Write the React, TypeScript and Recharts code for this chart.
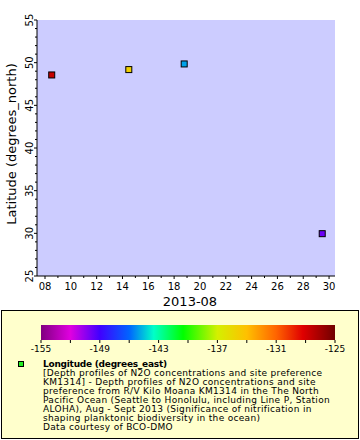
import React from "react";
import { CartesianGrid, Scatter, ScatterChart, XAxis, YAxis } from "recharts";

// cruise stations, August 2013
const dayOfAugust = [8.52, 14.49, 18.78, 29.47];
const latitude = [48.56, 49.19, 49.85, 29.96];
const longitude = [-127.5, -135.0, -145.0, -149.8];

const xTicks = Array.from({ length: 23 }, (_, i) => 8 + i);
const yTicks = Array.from({ length: 31 }, (_, i) => 25 + i);
const colorbarLabels = [-155, -149, -143, -137, -131, -125];
const colorbarTicks = Array.from({ length: 11 }, (_, i) => -155 + i * 3);

const legendTitle = "Longitude (degrees_east)";
const legendLines = [
    "[Depth profiles of N2O concentrations and site preference",
    "KM1314] - Depth profiles of N2O concentrations and site",
    "preference from R/V Kilo Moana KM1314 in the The North",
    "Pacific Ocean (Seattle to Honolulu, including Line P, Station",
    "ALOHA), Aug - Sept 2013 (Significance of nitrification in",
    "shaping planktonic biodiversity in the ocean)",
    "Data courtesy of BCO-DMO",
];

const LON_MIN = -155;
const LON_MAX = -125;

const colorStops: [number, string][] = [
    [-155, "#800080"],
    [-152, "#e000e0"],
    [-149, "#4000ff"],
    [-146, "#0064ff"],
    [-143.5, "#00ffc8"],
    [-140.5, "#00ff00"],
    [-137, "#d4f000"],
    [-134, "#ffc000"],
    [-131, "#ff6400"],
    [-128.3, "#e00000"],
    [-125, "#700000"],
];

const hexToRgb = (h: string) => [1, 3, 5].map((i) => parseInt(h.slice(i, i + 2), 16));

const lonColor = (v: number) => {
    for (let i = 0; i < colorStops.length - 1; i++) {
        const [a, ca] = colorStops[i];
        const [b, cb] = colorStops[i + 1];
        if (v <= b) {
            const t = Math.max(0, (v - a) / (b - a));
            const ra = hexToRgb(ca);
            const rb = hexToRgb(cb);
            const c = ra.map((x, k) => Math.round(x + (rb[k] - x) * t));
            return `rgb(${c[0]},${c[1]},${c[2]})`;
        }
    }
    return colorStops[colorStops.length - 1][1];
};

const data = dayOfAugust.map((d, i) => ({ day: d, lat: latitude[i], lon: longitude[i] }));

const FONT = "DejaVu Sans";

const XTick = (props: any) => {
    const { x, y, payload } = props;
    const major = payload.value % 2 === 0;
    return (
        <g>
            <line x1={x} x2={x} y1={y} y2={y + (major ? 3 : 2)} stroke="#000" />
            {major && (
                <text x={x} y={y + 14} textAnchor="middle" fontSize={10} fontFamily={FONT} fill="#000">
                    {String(payload.value).padStart(2, "0")}
                </text>
            )}
        </g>
    );
};

const YTick = (props: any) => {
    const { x, y, payload } = props;
    const major = payload.value % 5 === 0;
    return (
        <g>
            <line x1={x} x2={x - (major ? 3 : 2)} y1={y} y2={y} stroke="#000" />
            {major && (
                <text x={x - 4} y={y} transform={`rotate(-90 ${x - 4} ${y})`} textAnchor="middle"
                    fontSize={10} fontFamily={FONT} fill="#000">
                    {payload.value}
                </text>
            )}
        </g>
    );
};

const SquareDot = (props: any) => {
    const { cx, cy, payload } = props;
    return <rect x={cx - 3} y={cy - 3} width={6} height={6} fill={lonColor(payload.lon)} stroke="#000" strokeWidth={1} />;
};

const YLabel = (props: any) => {
    const { viewBox } = props;
    const x = viewBox.x + 16;
    const y = viewBox.y + viewBox.height / 2 - 4;
    return (
        <text x={x} y={y} transform={`rotate(-90 ${x} ${y})`} textAnchor="middle" fontSize={13} fontFamily={FONT} fill="#000">
            Latitude (degrees_north)
        </text>
    );
};

const XLabel = (props: any) => {
    const { viewBox } = props;
    return (
        <text x={viewBox.x + viewBox.width / 2 + 4} y={viewBox.y + 30} textAnchor="middle" fontSize={13} fontFamily={FONT} fill="#000">
            2013-08
        </text>
    );
};

const Legend = () => {
    const barX = 41;
    const barW = 294;
    const pos = (v: number) => barX + ((v - LON_MIN) / (LON_MAX - LON_MIN)) * barW;
    return (
        <svg width={360} height={440} style={{ position: "absolute", left: 0, top: 0 }}>
            <defs>
                <linearGradient id="lonScale" x1="0" x2="1" y1="0" y2="0">
                    {colorStops.map(([v, c]) => (
                        <stop key={v} offset={(v - LON_MIN) / (LON_MAX - LON_MIN)} stopColor={c} />
                    ))}
                </linearGradient>
            </defs>
            <rect x={1.5} y={310.5} width={357} height={128} fill="#ffffcc" stroke="#000" />
            <rect x={barX} y={325} width={barW} height={15} fill="url(#lonScale)" />
            {colorbarTicks.map((v) => (
                <line key={v} x1={pos(v)} x2={pos(v)} y1={340} y2={343} stroke="#000" />
            ))}
            {colorbarLabels.map((v) => (
                <text key={v} x={pos(v)} y={352} textAnchor="middle" fontSize={9} fontFamily={FONT} fill="#000">
                    {v}
                </text>
            ))}
            <rect x={18.5} y={361.5} width={5} height={5} fill="#22ee22" stroke="#000" />
            <text x={43} y={367} fontSize={9} fontWeight="bold" letterSpacing={-0.25} fontFamily={FONT} fill="#000">
                {legendTitle}
            </text>
            {legendLines.map((line, i) => (
                <text key={i} x={43} y={376 + i * 9} fontSize={9} letterSpacing={0.32} fontFamily={FONT} fill="#000">
                    {line}
                </text>
            ))}
        </svg>
    );
};

export default function App() {
    return (
        <div style={{ position: "fixed", left: 0, top: 0, width: 360, height: 440, background: "#fff" }}>
            <Legend />
            <div style={{ position: "absolute", left: 0, top: 0 }}>
                <ScatterChart width={360} height={310} margin={{ top: 20, right: 25, bottom: 0, left: 0 }}>
                    <CartesianGrid fill="#ccccff" horizontal={false} vertical={false} />
                    <XAxis dataKey="day" type="number" domain={[7.38, 30.46]} ticks={xTicks} interval={0}
                        allowDataOverflow height={34} tickSize={0} tickMargin={0} tick={<XTick />}
                        axisLine={{ stroke: "#000" }} label={<XLabel />} />
                    <XAxis xAxisId="top" orientation="top" type="number" domain={[7.38, 30.46]} height={0}
                        tick={false} tickLine={false} axisLine={{ stroke: "#000" }} />
                    <YAxis dataKey="lat" type="number" domain={[25, 55]} ticks={yTicks} interval={0}
                        allowDataOverflow width={37} tickSize={0} tickMargin={0} tick={<YTick />}
                        axisLine={{ stroke: "#000" }} label={<YLabel />} />
                    <YAxis yAxisId="right" orientation="right" type="number" domain={[25, 55]} width={0}
                        tick={false} tickLine={false} axisLine={{ stroke: "#000" }} />
                    <Scatter data={data} shape={<SquareDot />} isAnimationActive={false} />
                </ScatterChart>
            </div>
        </div>
    );
}
